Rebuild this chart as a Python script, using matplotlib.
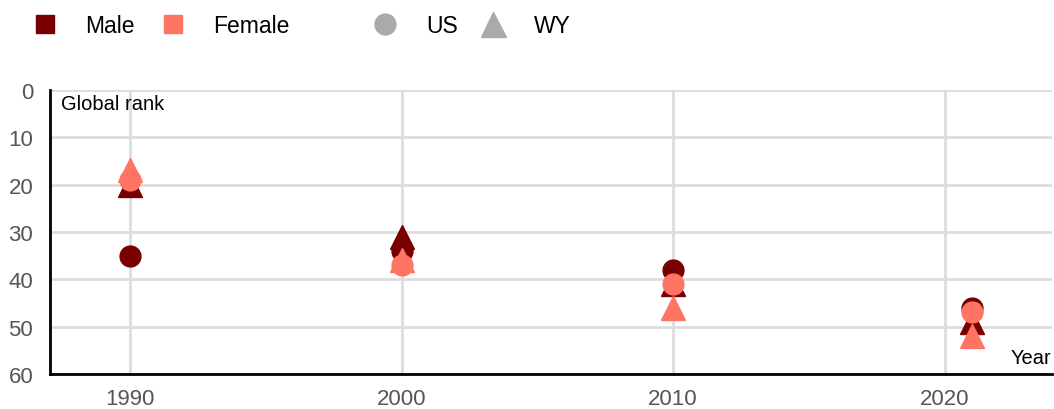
import numpy as np
import matplotlib.pyplot as plt
from matplotlib.lines import Line2D

plt.rcParams['font.family'] = ['Liberation Sans', 'DejaVu Sans']

# Global rank by year (lower rank drawn higher, axis inverted)
years = [1990, 2000, 2010, 2021]
male_us = [35, 34, 38, 46]
male_wy = [20, 31, 41, 49]
female_us = [19, 37, 41, 47]
female_wy = [17, 36, 46, 52]

male_col = '#780000'
female_col = '#ff7462'
grey = '#aaaaaa'

fig = plt.figure(figsize=(10.54, 4.10), dpi=100)
ax = fig.add_axes([0.0474, 0.0854, 0.9506, 0.6926])

ax.plot(years, male_wy, '^', color=male_col, markersize=17, zorder=3)
ax.plot(years, male_us, 'o', color=male_col, markersize=15, zorder=4)
ax.plot(years, female_wy, '^', color=female_col, markersize=17, zorder=5)
ax.plot(years, female_us, 'o', color=female_col, markersize=15, zorder=6)

ax.set_xlim(1987.05, 2023.95)
ax.set_ylim(60, 0)
ax.set_xticks([1990, 2000, 2010, 2020])
ax.set_yticks(np.arange(0, 61, 10))
ax.grid(True, color='#dddddd', linewidth=2)
ax.set_axisbelow(True)
for s in ['top', 'right']:
    ax.spines[s].set_visible(False)
for s in ['left', 'bottom']:
    ax.spines[s].set_linewidth(2)
    ax.spines[s].set_color('black')
ax.tick_params(length=0, labelsize=16, labelcolor='#555555', pad=10)
ax.tick_params(axis='y', pad=12)

ax.text(0.011, 0.985, 'Global rank', transform=ax.transAxes, fontsize=14.5,
        ha='left', va='top')
ax.text(0.999, 0.025, 'Year', transform=ax.transAxes, fontsize=14.5,
        ha='right', va='bottom')

sex_handles = [Line2D([], [], ls='', marker='s', color=male_col, markersize=13.5),
               Line2D([], [], ls='', marker='s', color=female_col, markersize=13.5)]
leg1 = fig.legend(sex_handles, ['Male', 'Female'], loc='center left',
                  bbox_to_anchor=(0.012, 0.935), ncol=2, frameon=False,
                  fontsize=16.5, handletextpad=1.25, columnspacing=1.18,
                  handlelength=1.0)
geo_handles = [Line2D([], [], ls='', marker='o', color=grey, markersize=15),
               Line2D([], [], ls='', marker='^', color=grey, markersize=18)]
leg2 = fig.legend(geo_handles, ['US', 'WY'], loc='center left',
                  bbox_to_anchor=(0.335, 0.935), ncol=2, frameon=False,
                  fontsize=16.5, handletextpad=1.28, columnspacing=1.05,
                  handlelength=1.0)

fig.savefig('out.png', dpi=100)
